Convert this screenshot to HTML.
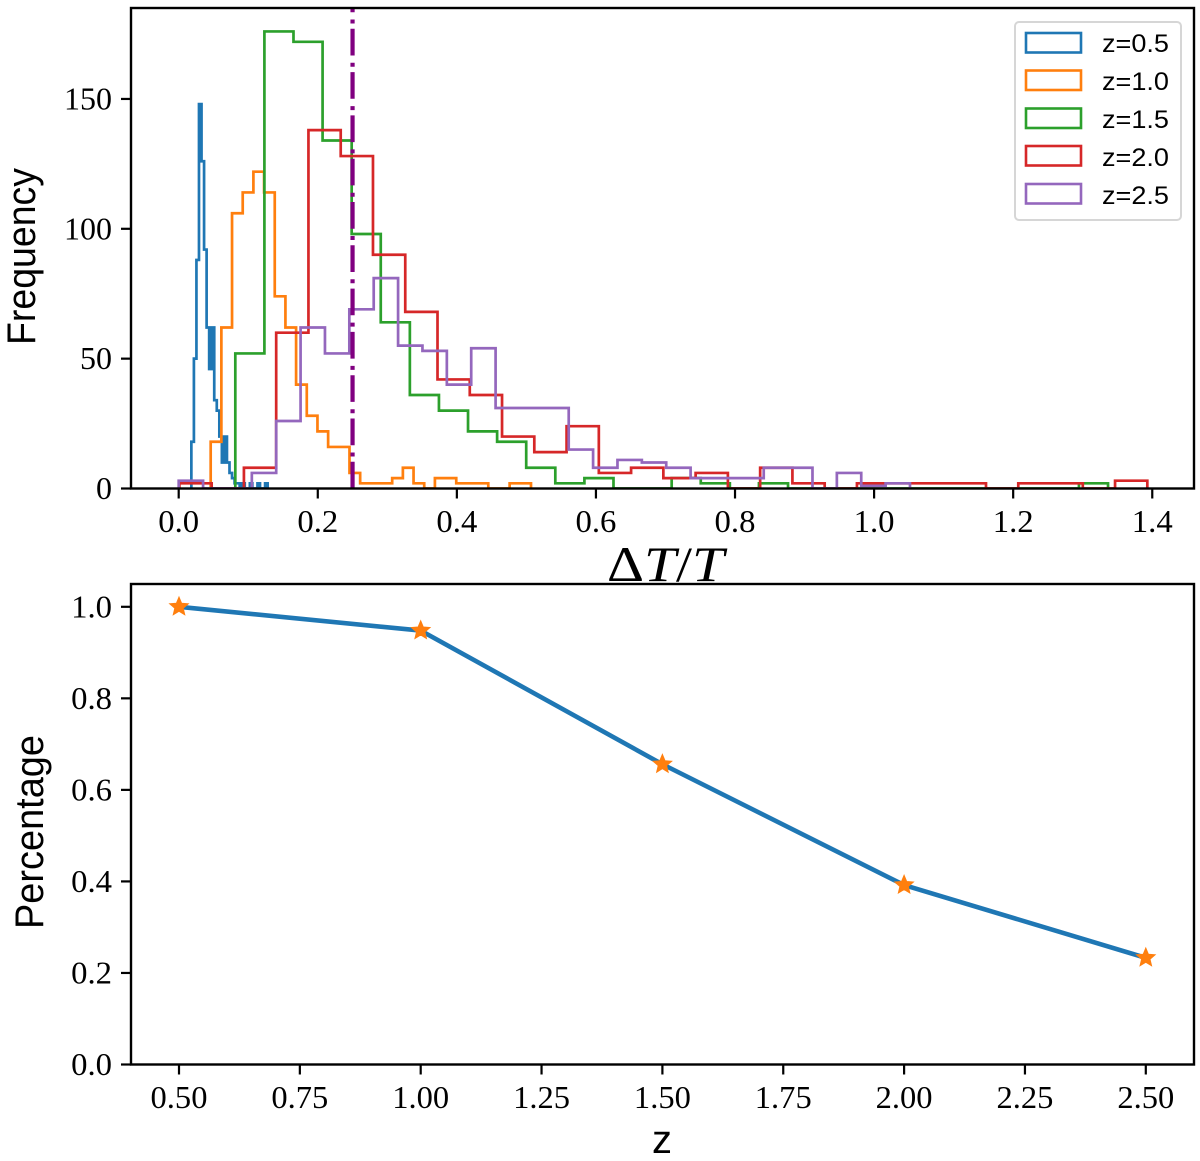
<!DOCTYPE html>
<html lang="en">
<head>
<meta charset="utf-8">
<title>Histogram of delta T over T and percentage by redshift</title>
<style>
html,body{margin:0;padding:0;background:#fff;width:1200px;height:1161px;overflow:hidden}
svg{display:block}
text{fill:#000}
.serif{font-family:"Liberation Serif",serif}
.sans{font-family:"Liberation Sans",sans-serif}
</style>
</head>
<body>
<svg id="figure" xmlns="http://www.w3.org/2000/svg" width="1200" height="1161" viewBox="0 0 1200 1161">
  <defs>
    <clipPath id="clip-top"><rect x="131" y="8" width="1063" height="480.5"/></clipPath>
  </defs>
  <g id="top-panel">
    <g id="hist-marks" clip-path="url(#clip-top)"></g>
    <rect x="131" y="8" width="1063" height="480.5" fill="none" stroke="#000" stroke-width="2.4"/>
    <g id="top-ticks"></g>
    <text class="sans" font-size="40" text-anchor="middle" textLength="177" lengthAdjust="spacingAndGlyphs" transform="translate(35 256.5) rotate(-90)">Frequency</text>
    <text class="serif" font-size="50" x="607" y="581" textLength="117" lengthAdjust="spacingAndGlyphs">Δ<tspan font-style="italic">T</tspan>/<tspan font-style="italic">T</tspan></text>
    <g>
      <rect x="1015" y="22" width="166" height="198" rx="4" fill="#fff" fill-opacity="0.85" stroke="#d6d6d6" stroke-width="2"/>
      <g>
        <rect x="1026" y="33" width="55" height="19.5" fill="#fff" stroke="#1f77b4" stroke-width="2.6"/>
        <text class="sans" font-size="25" x="1102" y="52" textLength="67" lengthAdjust="spacingAndGlyphs">z=0.5</text>
      </g>
      <g>
        <rect x="1026" y="70.5" width="55" height="19.5" fill="#fff" stroke="#ff7f0e" stroke-width="2.6"/>
        <text class="sans" font-size="25" x="1102" y="90" textLength="67" lengthAdjust="spacingAndGlyphs">z=1.0</text>
      </g>
      <g>
        <rect x="1026" y="108.5" width="55" height="19.5" fill="#fff" stroke="#2ca02c" stroke-width="2.6"/>
        <text class="sans" font-size="25" x="1102" y="128" textLength="67" lengthAdjust="spacingAndGlyphs">z=1.5</text>
      </g>
      <g>
        <rect x="1026" y="146" width="55" height="19.5" fill="#fff" stroke="#d62728" stroke-width="2.6"/>
        <text class="sans" font-size="25" x="1102" y="166" textLength="67" lengthAdjust="spacingAndGlyphs">z=2.0</text>
      </g>
      <g>
        <rect x="1026" y="184" width="55" height="19.5" fill="#fff" stroke="#9467bd" stroke-width="2.6"/>
        <text class="sans" font-size="25" x="1102" y="204" textLength="67" lengthAdjust="spacingAndGlyphs">z=2.5</text>
      </g>
    </g>
  </g>
  <g id="bottom-panel">
    <g id="line-marks"></g>
    <rect x="131" y="584" width="1063" height="480.5" fill="none" stroke="#000" stroke-width="2.4"/>
    <g id="bottom-ticks"></g>
    <text class="sans" font-size="40" text-anchor="middle" textLength="194" lengthAdjust="spacingAndGlyphs" transform="translate(43 832) rotate(-90)">Percentage</text>
    <text class="sans" font-size="40" text-anchor="middle" x="662" y="1153">z</text>
  </g>
</svg>
<script>
// ---- Histogram data (value range of the bins and counts per bin) ----
const binRange05 = [0.0182, 0.1279];
const counts05 = [18,50,88,148,126,92,62,46,62,34,30,20,10,20,10,6,4,2,2,0,2,0,0,2,0,0,2,0,0,2];
const binRange10 = [0.0460, 0.5066];
const counts10 = [18,62,106,114,122,114,74,62,40,28,22,16,16,6,2,2,2,4,8,2,0,4,4,2,2,2,0,0,2,2];
const binRange15 = [0.0814, 1.3364];
const counts15 = [52,176,172,134,98,64,36,30,22,18,8,2,4,0,0,4,2,0,2,0,0,0,0,0,0,0,0,0,0,2];
const binRange20 = [0.0010, 1.3929];
const counts20 = [2,0,8,60,138,128,90,68,42,36,20,14,24,6,8,4,6,0,8,2,0,2,2,2,2,0,2,2,0,3];
const binRange25 = [0.0000, 1.0516];
const counts25 = [3,0,0,6,26,62,52,69,81,55,53,40,54,31,31,31,15,8,11,10,8,4,4,4,8,8,0,6,1,2];
const thresholdValue = [0.25];

// ---- Percentage line data ----
const redshifts = [0.5, 1.0, 1.5, 2.0, 2.5];
const percentages = [1.0, 0.948, 0.656, 0.392, 0.233];

// ---- Tick labels ----
const topXTicks = ["0.0","0.2","0.4","0.6","0.8","1.0","1.2","1.4"];
const topYTicks = ["0","50","100","150"];
const bottomXTicks = ["0.50","0.75","1.00","1.25","1.50","1.75","2.00","2.25","2.50"];
const bottomYTicks = ["0.0","0.2","0.4","0.6","0.8","1.0"];

// ---- Axis functions ----
function topX(v){ return 178.7 + 695.4 * v; }
function topY(v){ return 488.5 - 2.597 * v; }
function bottomX(v){ return 179 + 483.4 * (v - 0.5); }
function bottomY(v){ return 1064.5 - 457.7 * v; }

const NS = 'http://www.w3.org/2000/svg';
function make(tag, parent, attrs){
  const el = document.createElementNS(NS, tag);
  Object.keys(attrs).forEach(function(k){ el.setAttribute(k, attrs[k]); });
  parent.appendChild(el);
  return el;
}
function labelWidth(s){
  let w = 0;
  for (const ch of s) { w += (ch === '.') ? 8.9 : 16; }
  return w;
}
function histPath(range, counts){
  const step = (range[1] - range[0]) / counts.length;
  let d = 'M' + topX(range[0]).toFixed(2) + ' ' + topY(0).toFixed(2);
  counts.forEach(function(c, i){
    const a = topX(range[0] + i * step).toFixed(2);
    const b = topX(range[0] + (i + 1) * step).toFixed(2);
    const y = topY(c).toFixed(2);
    d += 'L' + a + ' ' + y + 'L' + b + ' ' + y;
  });
  d += 'L' + topX(range[1]).toFixed(2) + ' ' + topY(0).toFixed(2);
  return d;
}

// ---- Histograms ----
const histGroup = document.getElementById('hist-marks');
const h05 = make('path', histGroup, {d: histPath(binRange05, counts05), fill: 'none', stroke: '#1f77b4', 'stroke-width': 2.7});


const h10 = make('path', histGroup, {d: histPath(binRange10, counts10), fill: 'none', stroke: '#ff7f0e', 'stroke-width': 2.7});


const h15 = make('path', histGroup, {d: histPath(binRange15, counts15), fill: 'none', stroke: '#2ca02c', 'stroke-width': 2.7});


const h20 = make('path', histGroup, {d: histPath(binRange20, counts20), fill: 'none', stroke: '#d62728', 'stroke-width': 2.7});


const h25 = make('path', histGroup, {d: histPath(binRange25, counts25), fill: 'none', stroke: '#9467bd', 'stroke-width': 2.7});



const vline = make('line', histGroup, {
  x1: topX(thresholdValue[0]), x2: topX(thresholdValue[0]), y1: 488.5, y2: 8,
  stroke: '#800080', 'stroke-width': 4.2, 'stroke-dasharray': '26.7 5.3 4 7.3'
});



// ---- Line + stars ----
const lineGroup = document.getElementById('line-marks');
const linePts = redshifts.map(function(z, i){
  return bottomX(z).toFixed(2) + ',' + bottomY(percentages[i]).toFixed(2);
}).join(' ');
const pctLine = make('polyline', lineGroup, {points: linePts, fill: 'none', stroke: '#1f77b4', 'stroke-width': 4.6, 'stroke-linejoin': 'round'});



function starPoints(cx, cy, r){
  const pts = [];
  for (let k = 0; k < 10; k++) {
    const rad = (k % 2 === 0) ? r : r * 0.45;
    const ang = -Math.PI / 2 + k * Math.PI / 5;
    pts.push((cx + rad * Math.cos(ang)).toFixed(2) + ',' + (cy + rad * Math.sin(ang)).toFixed(2));
  }
  return pts.join(' ');
}
redshifts.forEach(function(z, i){
  const star = make('polygon', lineGroup, {
    points: starPoints(bottomX(z), bottomY(percentages[i]), 9.5),
    fill: '#ff7f0e', stroke: '#ff7f0e', 'stroke-width': 1.2
  });
  
  
});

// ---- Ticks ----
function drawXTick(group, x, axisY, label, baseline){
  const tick = make('line', group, {x1: x, x2: x, y1: axisY, y2: axisY + 10, stroke: '#000', 'stroke-width': 2.2});
  
  
  const text = make('text', group, {
    x: x, y: baseline, 'text-anchor': 'middle', 'font-size': 32, 'class': 'serif',
    textLength: labelWidth(label), lengthAdjust: 'spacingAndGlyphs'
  });
  text.textContent = label;
  
  
}
function drawYTick(group, y, label){
  const tick = make('line', group, {x1: 121, x2: 131, y1: y, y2: y, stroke: '#000', 'stroke-width': 2.2});
  
  
  const text = make('text', group, {
    x: 112, y: y + 10.5, 'text-anchor': 'end', 'font-size': 32, 'class': 'serif',
    textLength: labelWidth(label), lengthAdjust: 'spacingAndGlyphs'
  });
  text.textContent = label;
  
  
}
const topTicks = document.getElementById('top-ticks');
topXTicks.forEach(function(l){ drawXTick(topTicks, topX(parseFloat(l)), 488.5, l, 532); });
topYTicks.forEach(function(l){ drawYTick(topTicks, topY(parseFloat(l)), l); });
const botTicks = document.getElementById('bottom-ticks');
bottomXTicks.forEach(function(l){ drawXTick(botTicks, bottomX(parseFloat(l)), 1064.5, l, 1108); });
bottomYTicks.forEach(function(l){ drawYTick(botTicks, bottomY(parseFloat(l)), l); });
</script>
</body>
</html>
